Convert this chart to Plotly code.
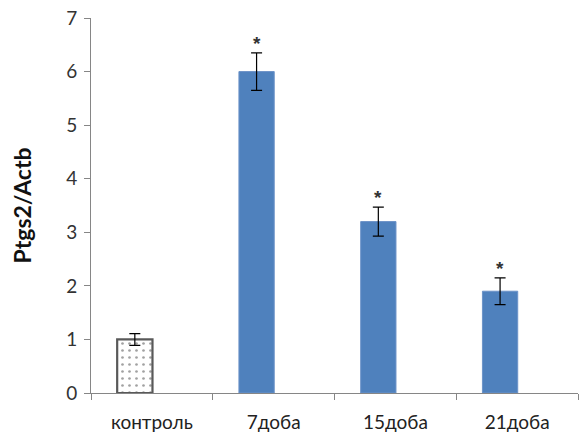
import plotly.graph_objects as go

categories = ["контроль", "7доба", "15доба", "21доба"]
values = [1.0, 6.0, 3.2, 1.9]
errors = [0.11, 0.35, 0.27, 0.25]
significant = [False, True, True, True]
y_tick_vals = [0, 1, 2, 3, 4, 5, 6, 7]

FONT = "Lato, 'Open Sans', sans-serif"
blue = "#4F81BD"

fig = go.Figure()
fig.add_trace(go.Bar(
    x=categories,
    y=values,
    width=0.29,
    offset=-0.285,
    marker=dict(
        color=["white", blue, blue, blue],
        line=dict(color=["#595959", "#6C93C8", "#6C93C8", "#6C93C8"], width=[2.2, 1, 1, 1]),
        pattern=dict(shape=[".", "", "", ""], fgcolor="#7f7f7f", bgcolor="white",
                     size=7, solidity=0.12, fillmode="overlay"),
    ),
    error_y=dict(type="data", array=errors, visible=True, color="black", thickness=1.2, width=5.5),
    showlegend=False,
))

for c, v, e, s in zip(categories, values, errors, significant):
    if s:
        fig.add_annotation(x=c, y=v + e, text="<b>*</b>", showarrow=False, yanchor="bottom",
                           yshift=-3, xshift=-17, font=dict(family="Arial", size=19, color="#333"))

fig.update_layout(
    width=579, height=440,
    margin=dict(l=91, r=1, t=18, b=47, autoexpand=False),
    paper_bgcolor="white", plot_bgcolor="white",
    font=dict(family=FONT, size=19, color="#333"),
)
fig.update_xaxes(
    automargin=False,
    showline=True, linecolor="#868686", linewidth=1,
    ticks="outside", tickson="boundaries", ticklen=6, tickcolor="#868686",
    tickfont=dict(size=19, color="#222"), showgrid=False, ticklabelstandoff=12,
)
fig.update_yaxes(
    automargin=False,
    range=[0, 7], tickvals=y_tick_vals, showline=True, linecolor="#868686", linewidth=1,
    ticks="outside", ticklen=6, tickcolor="#868686", showgrid=False, zeroline=False,
    tickfont=dict(size=19, color="#333"), ticklabelstandoff=3,
    title=dict(text="<b>Ptgs2/Actb</b>", font=dict(size=23, color="#111"), standoff=28),
)

fig.write_html("out.html", config={"displayModeBar": False},
               post_script="document.body.style.margin='0';")
